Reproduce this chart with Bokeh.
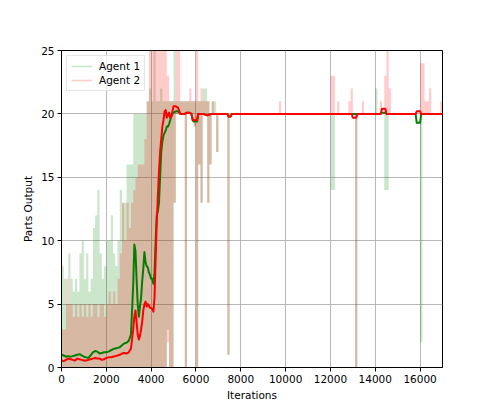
from bokeh.plotting import figure
from bokeh.models import Range1d, FixedTicker, Legend, LegendItem
from bokeh.embed import file_html
from bokeh.resources import INLINE

# ---------------- data ----------------
BIN = 100          # raw data summarised per 100-iteration bin (min / max of the noisy series)
X_MAX = 17000

# bins 0 .. 7500 (raw envelope)
EARLY_A1_LO = [0, 0, 0, 0, 0, 0, 0, 0, 0, 0,
               0, 0, 0, 0, 0, 0, 0, 0, 0, 0,
               0, 0, 0, 0, 0, 0, 0, 0, 0, 0,
               0, 0, 0, 0, 0, 0, 0, 0, 0, 0,
               0, 0, 0, 0, 0, 0, 0, 3, 0, 0,
               13, 20, 20, 20, 20, 0, 20, 20, 20, 19,
               0, 16, 13, 20, 20, 13, 16, 20, 20, 17,
               20, 20, 20, 20, 1, 20]
EARLY_A1_HI = [8, 7, 5, 9, 7, 6, 7, 6, 9, 10,
               7, 9, 6, 7, 11, 12, 14, 9, 7, 8,
               10, 10, 12, 9, 8, 10, 14, 13, 13, 16,
               16, 16, 20, 20, 20, 20, 20, 20, 21, 22,
               21, 25, 21, 21, 22, 21, 21, 21, 21, 21,
               25, 21, 21, 21, 21, 21, 21, 21, 21, 21,
               21, 21, 21, 22, 22, 21, 20, 21, 21, 20,
               20, 20, 20, 20, 20, 20]
EARLY_A2_LO = [0, 0, 0, 0, 0, 0, 0, 0, 0, 0,
               0, 0, 0, 0, 0, 0, 0, 0, 0, 0,
               0, 0, 0, 0, 0, 0, 0, 0, 0, 0,
               0, 0, 0, 0, 0, 0, 0, 0, 0, 0,
               0, 0, 0, 0, 0, 0, 0, 2, 0, 0,
               13, 20, 20, 20, 20, 0, 20, 20, 20, 19,
               0, 16, 13, 20, 20, 13, 16, 20, 20, 17,
               20, 20, 20, 20, 1, 20]
EARLY_A2_HI = [3, 3, 7, 5, 5, 4, 5, 4, 5, 4,
               5, 4, 5, 4, 5, 5, 4, 5, 5, 4,
               5, 6, 5, 6, 5, 7, 9, 13, 10, 13,
               11, 13, 14, 15, 16, 16, 16, 18, 21, 25,
               25, 25, 25, 25, 25, 25, 25, 23, 21, 21,
               21, 25, 25, 21, 21, 21, 21, 22, 21, 21,
               25, 21, 22, 21, 21, 21, 20, 21, 20, 20,
               20, 20, 20, 20, 20, 20]

STEADY = 20  # raw output after convergence

# isolated spikes after 7600 iterations
SPIKE_ITER  = [9700, 12000, 12100, 12300, 12800, 12900, 13100, 13400, 14000, 14200,
               14400, 14500, 14600, 16000, 16100, 16200, 16300, 16400, 16900]
SPIKE_A1_LO = [20, 14, 14, 20, 20, 20, 0, 20, 20, 20, 14, 14, 20, 2, 20, 20, 20, 20, 20]
SPIKE_A1_HI = [20, 20, 20, 20, 20, 20, 20, 20, 22, 20, 20, 20, 20, 20, 20, 20, 20, 20, 20]
SPIKE_A2_LO = [20, 20, 20, 20, 20, 20, 0, 20, 20, 20, 20, 20, 20, 20, 20, 20, 20, 20, 20]
SPIKE_A2_HI = [21, 23, 23, 21, 21, 22, 20, 21, 20, 21, 23, 25, 22, 24, 24, 21, 21, 22, 21]

# smoothed (running mean) curves
SM_X = [0, 100, 200, 300, 400, 500, 600, 700, 800, 900,
        1000, 1100, 1200, 1300, 1400, 1500, 1600, 1700, 1800, 1900,
        2000, 2100, 2200, 2300, 2400, 2500, 2600, 2700, 2800, 2900,
        3000, 3100, 3200, 3250, 3300, 3350, 3400, 3450, 3500, 3550,
        3600, 3650, 3700, 3750, 3800, 3850, 3900, 3950, 4000, 4050,
        4100, 4150, 4200, 4250, 4300, 4350, 4400, 4450, 4500, 4550,
        4600, 4650, 4700, 4750, 4800, 4850, 4900, 4950, 5000, 5100,
        5200, 5300, 5500, 5600, 5700, 5800, 5850, 5900, 6050, 6100,
        6300, 6500, 6700, 7400, 7450, 7550, 7600, 12950, 13000, 13150,
        13200, 14250, 14300, 14450, 14500, 15800, 15850, 16000, 16050, 17000]
A1_SMOOTH = [1.0, 0.95, 0.85, 0.9, 0.85, 0.9, 0.95, 1.0, 1.05, 0.95,
             0.85, 0.8, 0.75, 0.95, 1.2, 1.3, 1.25, 1.1, 1.15, 1.2,
             1.2, 1.25, 1.35, 1.45, 1.5, 1.55, 1.6, 1.75, 1.9, 1.95,
             2.1, 2.6, 6.5, 9.7, 9.2, 7.0, 5.0, 4.0, 4.8, 5.5,
             6.8, 7.8, 9.1, 8.3, 8.0, 7.9, 7.5, 7.3, 7.0, 7.0,
             6.6, 7.5, 10.0, 12.0, 12.3, 13.0, 15.0, 17.0, 17.8, 18.3,
             18.5, 18.7, 19.0, 19.0, 19.2, 19.5, 19.8, 20.0, 20.1, 20.2,
             20.2, 20.0, 20.0, 20.1, 20.1, 20.0, 19.5, 19.4, 19.4, 20.0,
             20.0, 19.9, 20.0, 20.0, 19.8, 19.8, 20.0, 20.0, 20.0, 20.0,
             20.0, 20.0, 20.1, 20.1, 20.0, 20.0, 19.3, 19.3, 20.0, 20.0]
A2_SMOOTH = [0.55, 0.5, 0.6, 0.7, 0.65, 0.6, 0.55, 0.7, 0.65, 0.6,
             0.55, 0.55, 0.6, 0.65, 0.7, 0.75, 0.7, 0.7, 0.6, 0.65,
             0.75, 0.8, 0.8, 0.85, 0.9, 0.95, 1.0, 1.1, 1.15, 1.1,
             1.2, 1.5, 3.0, 4.0, 4.5, 3.6, 2.6, 2.2, 2.5, 3.0,
             3.6, 4.5, 5.0, 5.2, 4.8, 5.0, 4.9, 4.7, 4.7, 4.6,
             4.4, 5.5, 8.5, 11.5, 13.5, 15.5, 17.0, 18.0, 19.0, 19.5,
             20.2, 20.3, 19.7, 19.9, 20.1, 19.7, 19.8, 20.2, 20.6, 20.6,
             20.5, 20.0, 20.0, 20.1, 20.1, 20.0, 19.6, 19.5, 19.5, 20.0,
             20.0, 19.9, 20.0, 20.0, 19.8, 19.8, 20.0, 20.0, 19.7, 19.7,
             20.0, 20.0, 20.4, 20.4, 20.0, 20.0, 20.2, 20.2, 20.0, 20.0]

X_TICKS = [0, 2000, 4000, 6000, 8000, 10000, 12000, 14000, 16000]
Y_TICKS = [0, 5, 10, 15, 20, 25]

# ---------------- build raw envelopes ----------------
n_bins = X_MAX // BIN
bins = [i * BIN for i in range(n_bins)]
a1_lo = EARLY_A1_LO + [STEADY] * (n_bins - len(EARLY_A1_LO))
a1_hi = EARLY_A1_HI + [STEADY] * (n_bins - len(EARLY_A1_HI))
a2_lo = EARLY_A2_LO + [STEADY] * (n_bins - len(EARLY_A2_LO))
a2_hi = EARLY_A2_HI + [STEADY] * (n_bins - len(EARLY_A2_HI))
for it, l1, h1, l2, h2 in zip(SPIKE_ITER, SPIKE_A1_LO, SPIKE_A1_HI, SPIKE_A2_LO, SPIKE_A2_HI):
    k = it // BIN
    a1_lo[k], a1_hi[k], a2_lo[k], a2_hi[k] = l1, h1, l2, h2
xs = bins + [X_MAX]
a1_lo.append(a1_lo[-1]); a1_hi.append(a1_hi[-1])
a2_lo.append(a2_lo[-1]); a2_hi.append(a2_hi[-1])

FONT = "DejaVu Sans"

p = figure(output_backend="svg", toolbar_location=None,
           frame_width=381, frame_height=317,
           min_border_left=61, min_border_top=50, min_border_right=30, min_border_bottom=45,
           x_range=Range1d(0, X_MAX), y_range=Range1d(0, 25),
           background_fill_color="white", border_fill_color="white")

p.varea_step(x=xs, y1=a1_lo, y2=a1_hi, step_mode="after", fill_color="green", fill_alpha=0.2)
p.varea_step(x=xs, y1=a2_lo, y2=a2_hi, step_mode="after", fill_color="red", fill_alpha=0.2)

p.line(SM_X, A1_SMOOTH, line_color="green", line_width=2, line_join="round")
p.line(SM_X, A2_SMOOTH, line_color="red", line_width=2, line_join="round")

# legend proxies (kept outside the visible range)
leg1 = p.line(x=[-2000, -1000], y=[-5, -5], line_color="green", line_alpha=0.2, line_width=1.6)
leg2 = p.line(x=[-2000, -1000], y=[-5, -5], line_color="red", line_alpha=0.2, line_width=1.6)
legend = Legend(items=[LegendItem(label="Agent 1", renderers=[leg1]),
                       LegendItem(label="Agent 2", renderers=[leg2])],
                location="top_left", margin=5, padding=4, spacing=2,
                label_height=12, glyph_height=12, glyph_width=21, label_standoff=7,
                label_text_font=FONT, label_text_font_size="10.5px", label_text_color="black",
                border_line_color="#cccccc", border_line_width=1,
                background_fill_color="white", background_fill_alpha=0.8)
p.add_layout(legend)

p.xaxis.ticker = FixedTicker(ticks=X_TICKS)
p.yaxis.ticker = FixedTicker(ticks=Y_TICKS)
for ax in (p.xaxis[0], p.yaxis[0]):
    ax.axis_line_color = "black"
    ax.major_tick_line_color = "black"
    ax.major_tick_out = 4
    ax.major_tick_in = 0
    ax.minor_tick_line_color = None
    ax.major_label_text_font = FONT
    ax.major_label_text_font_size = "10.5px"
    ax.major_label_text_color = "black"
    ax.axis_label_text_font = FONT
    ax.axis_label_text_font_size = "10.5px"
    ax.axis_label_text_font_style = "normal"
    ax.axis_label_text_color = "black"
    ax.major_label_standoff = 3
p.xaxis.axis_label = "Iterations"
p.yaxis.axis_label = "Parts Output"
p.xaxis.axis_label_standoff = 3
p.yaxis.axis_label_standoff = 4

p.xgrid.ticker = FixedTicker(ticks=X_TICKS)
p.ygrid.ticker = FixedTicker(ticks=Y_TICKS)
p.grid.grid_line_color = "#b0b0b0"
p.grid.grid_line_width = 1
p.grid.grid_line_alpha = 0.9

p.outline_line_color = "black"
p.outline_line_width = 1
p.outline_line_alpha = 1

open("out.html", "w").write(file_html(p, INLINE))
